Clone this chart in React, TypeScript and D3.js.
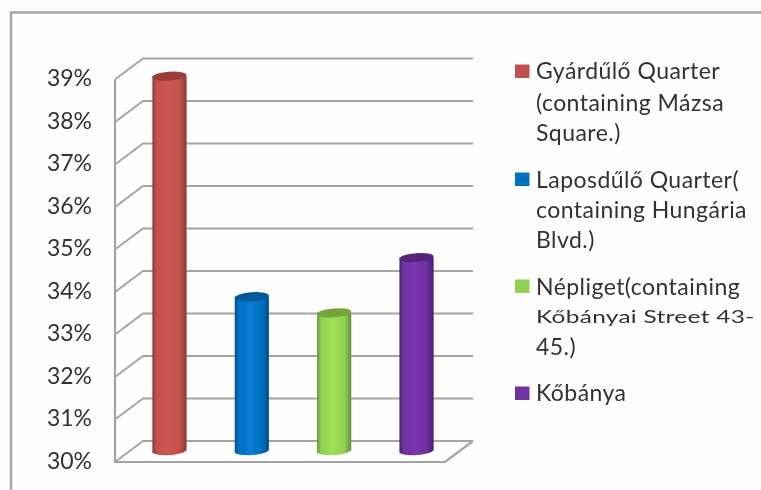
import React from "react";
import * as d3 from "d3";

const categories = ["Gyárdűlő Quarter", "Laposdűlő Quarter", "Népliget", "Kőbánya"];
const values = [38.82, 33.63, 33.25, 34.55];
const ticks = [30, 31, 32, 33, 34, 35, 36, 37, 38, 39];
const mainColors = ["#c0504d", "#0070c0", "#92d050", "#7030a0"];
const lightColors = ["#cf5653", "#0a7bd2", "#a0e05a", "#7c35b0"];
const darkColors = ["#8c3836", "#044e8a", "#62903a", "#4a1f70"];
const topColors = ["#9a3d3b", "#05589a", "#72a63e", "#55237c"];
const legendLines = [
  ["Gyárdűlő Quarter", "(containing Mázsa", "Square.)"],
  ["Laposdűlő Quarter(", "containing Hungária", "Blvd.)"],
  ["Népliget(containing", "Kőbányai Street 43-", "45.)"],
  ["Kőbánya"],
];
const legendTop = [64.5, 172.5, 279.5, 386.5];
const legendBaselines = [
  [79, 111, 141],
  [188, 218, 248],
  [295, 323, 355],
  [401],
];

const W = 761;
const H = 490;
const GRID = "#a4a4a4";
const depthX = 28;
const depthY = 21;
const floorFrontLeft = 115;
const floorFrontRight = 445;
const frontBase = 462;

const y = d3.scaleLinear().domain([30, 39]).range([frontBase, frontBase - 9 * 42.5]);
const x = d3
  .scaleBand<string>()
  .domain(categories)
  .range([floorFrontLeft + 13.5, floorFrontRight + 12.5])
  .paddingInner(0.585)
  .paddingOuter(0.29);

export default function App() {
  const barW = x.bandwidth();
  const barOffset = 11;
  return (
    <svg
      width={W}
      height={H}
      viewBox={`0 0 ${W} ${H}`}
      style={{ position: "absolute", left: 0, top: 0, background: "#fefefe" }}
    >
      <defs>
        <filter id="soft" x="-5%" y="-5%" width="110%" height="110%">
          <feGaussianBlur stdDeviation="0.6" />
        </filter>
        {categories.map((c, i) => (
          <linearGradient key={c} id={`bar${i}`} x1="0" x2="1" y1="0" y2="0">
            <stop offset="0" stopColor={darkColors[i]} />
            <stop offset="0.12" stopColor={mainColors[i]} />
            <stop offset="0.45" stopColor={lightColors[i]} />
            <stop offset="0.8" stopColor={mainColors[i]} />
            <stop offset="1" stopColor={darkColors[i]} />
          </linearGradient>
        ))}
      </defs>
      <g filter="url(#soft)">
        <path d={`M11 490V12.5H${W}`} fill="none" stroke="#a6a6a6" strokeWidth={2.5} />
        {ticks.map((t) => (
          <path
            key={t}
            d={`M${floorFrontLeft} ${y(t)}L${floorFrontLeft + depthX} ${y(t) - depthY}H${floorFrontRight + depthX}`}
            fill="none"
            stroke={GRID}
            strokeWidth={1.9}
          />
        ))}
        <path
          d={`M${floorFrontLeft} ${y(39)}V${y(30)}H${floorFrontRight}L${floorFrontRight + depthX} ${y(30) - depthY}`}
          fill="none"
          stroke={GRID}
          strokeWidth={2.2}
        />
        {ticks.map((t) => (
          <text
            key={t}
            x={92}
            y={y(t) + 6.5}
            textAnchor="end"
            fontFamily="Lato, sans-serif"
            fontSize={23}
            fill="#333333"
          >
            {t}%
          </text>
        ))}
        {categories.map((c, i) => {
          const left = x(c)!;
          const cx = left + barW / 2;
          const base = y(30) - barOffset;
          const top = y(values[i]) - barOffset;
          const rx = barW / 2;
          const ry = 4.5;
          const d = `M${left} ${top}V${base}A${rx} ${ry} -4 0 0 ${left + barW} ${base - 1}V${top}Z`;
          return (
            <g key={c}>
              <path d={d} fill={`url(#bar${i})`} />
              <ellipse
                cx={cx}
                cy={top}
                rx={rx}
                ry={ry}
                fill={topColors[i]}
                transform={`rotate(-4 ${cx} ${top})`}
              />
            </g>
          );
        })}
        {legendLines.map((lines, i) => (
          <g key={i}>
            <rect x={515} y={legendTop[i]} width={14.5} height={13.5} fill={mainColors[i]} />
            {lines.map((line, j) => {
              const small = i === 2 && j === 1;
              return (
                <text
                  key={j}
                  transform={`translate(536 ${legendBaselines[i][j]}) scale(${small ? 1.4 : 1} 1)`}
                  fontFamily="Lato, sans-serif"
                  fontSize={small ? 17.5 : 23}
                  letterSpacing={small ? 0.2 : 0.45}
                  fill="#333333"
                >
                  {line}
                </text>
              );
            })}
          </g>
        ))}
      </g>
    </svg>
  );
}
